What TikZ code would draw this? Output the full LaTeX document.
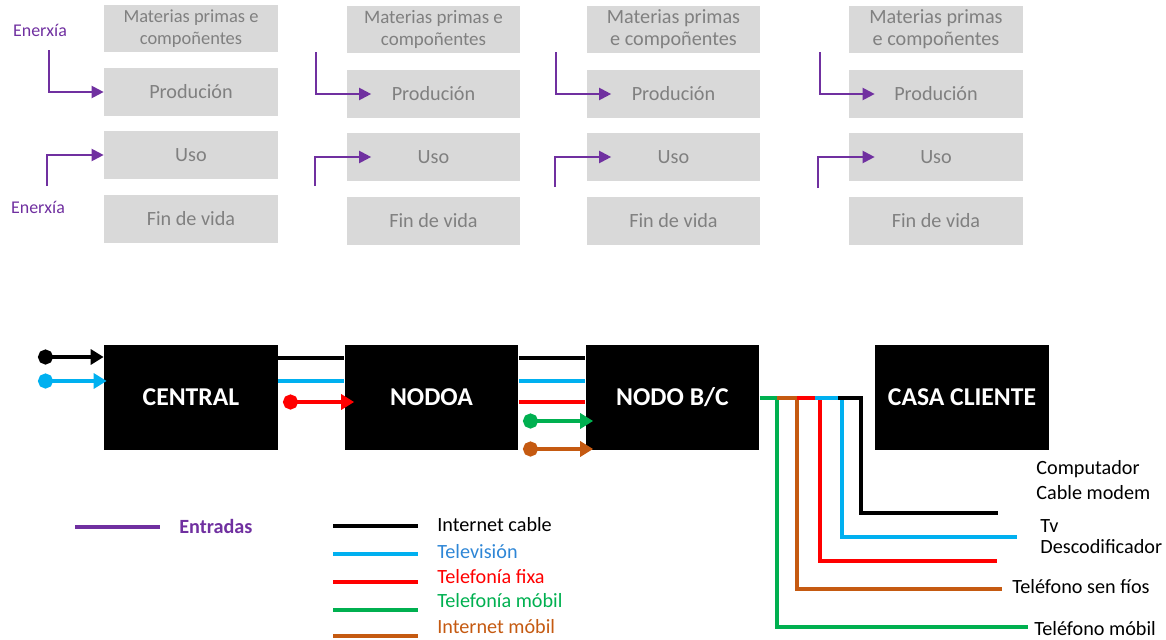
\documentclass[tikz,border=0pt]{standalone}
\usepackage{fontspec}
\setmainfont{Carlito}
\usetikzlibrary{arrows.meta}
\definecolor{inpurple}{HTML}{7030A0}
\definecolor{boxgray}{HTML}{D9D9D9}
\definecolor{txtgray}{HTML}{808080}
\definecolor{tvcyan}{HTML}{00B0F0}
\definecolor{tvblue}{HTML}{2E86D6}
\definecolor{mgreen}{HTML}{00B050}
\definecolor{morange}{HTML}{C55A11}
\begin{document}
\begin{tikzpicture}[x=0.02cm, y=-0.02cm,
  gbox/.style={fill=boxgray, text=txtgray, minimum width=3.48cm, minimum height=0.96cm, inner sep=1pt, align=center, font=\fontsize{11.5}{12.5}\selectfont},
  bbox/.style={fill=black, text=white, minimum width=3.48cm, minimum height=2.1cm, font=\fontsize{14.6}{16}\selectfont\bfseries},
  entrada/.style={draw=inpurple, line width=1.2pt, -{Triangle[length=0.24cm,width=0.24cm]}},
  wire/.style={line width=2.3pt},
  dotarrow/.style={wire, {Circle[length=0.3cm]}-{Triangle[length=0.26cm,width=0.3cm]}},
  lbl/.style={anchor=west, inner sep=0pt, font=\fontsize{11.5}{14}\selectfont}]
\useasboundingbox (0,0) rectangle (1166,639);

% ciclo de vida
\node at (191,28.5) [gbox, font=\fontsize{10.5}{12.5}\selectfont] (mat1) {Materias primas e\\compoñentes};
\node at (191,92) [gbox] (prod1) {Produción};
\node at (191,155) [gbox] (uso1) {Uso};
\node at (191,219) [gbox] (fin1) {Fin de vida};
\node at (433.5,29.5) [gbox, font=\fontsize{10.8}{12.5}\selectfont] (mat2) {Materias primas e\\compoñentes};
\node at (433.5,94) [gbox] (prod2) {Produción};
\node at (433.5,157) [gbox] (uso2) {Uso};
\node at (433.5,221) [gbox] (fin2) {Fin de vida};
\node at (673.5,29.5) [gbox] (mat3) {Materias primas\\e compoñentes};
\node at (673.5,94) [gbox] (prod3) {Produción};
\node at (673.5,157) [gbox] (uso3) {Uso};
\node at (673.5,221) [gbox] (fin3) {Fin de vida};
\node at (936,29.5) [gbox] (mat4) {Materias primas\\e compoñentes};
\node at (936,94) [gbox] (prod4) {Produción};
\node at (936,157) [gbox] (uso4) {Uso};
\node at (936,221) [gbox] (fin4) {Fin de vida};

\node at (40,30) [text=inpurple, font=\fontsize{10.2}{12}\selectfont] (en1) {Enerxía};
\node at (38,207) [text=inpurple, font=\fontsize{10.2}{12}\selectfont] (en2) {Enerxía};
\coordinate (e1) at (49,50);
\coordinate (e2) at (47,186);
\coordinate (e3) at (316,52);
\coordinate (e4) at (315,186);
\coordinate (e5) at (556,52);
\coordinate (e6) at (555,187);
\coordinate (e7) at (820,52);
\coordinate (e8) at (818,188);
\draw [entrada] (e1) |- (prod1.west);
\draw [entrada] (e2) |- (uso1.west);
\draw [entrada] (e3) |- ([xshift=0.5cm]prod2.west);
\draw [entrada] (e4) |- ([xshift=0.5cm]uso2.west);
\draw [entrada] (e5) |- ([xshift=0.5cm]prod3.west);
\draw [entrada] (e6) |- ([xshift=0.5cm]uso3.west);
\draw [entrada] (e7) |- ([xshift=0.52cm]prod4.west);
\draw [entrada] (e8) |- ([xshift=0.52cm]uso4.west);

% rede
\node at (191,397.5) [bbox] (central) {CENTRAL};
\node at (431.5,397.5) [bbox] (nodoa) {NODOA};
\node at (672.5,397.5) [bbox] (nodobc) {NODO B/C};
\node at (962,397.5) [bbox] (casa) {CASA CLIENTE};

\coordinate (inb) at (38,357);
\coordinate (inc) at (38,381);
\coordinate (inr) at (283,402);
\coordinate (ing) at (523,421);
\coordinate (ino) at (523,449);
\draw [dotarrow, black] (inb) -- (inb -| central.west);
\draw [dotarrow, tvcyan] (inc) -- ([xshift=0.06cm]inc -| central.west);
\draw [wire, black] (central.east |- 0,358) -- (nodoa.west |- 0,358);
\draw [wire, tvcyan] (central.east |- 0,381) -- (nodoa.west |- 0,381);
\draw [dotarrow, red] (inr) -- ([xshift=0.2cm]inr -| nodoa.west);
\draw [wire, black] (nodoa.east |- 0,358) -- (nodobc.west |- 0,358);
\draw [wire, tvcyan] (nodoa.east |- 0,381) -- (nodobc.west |- 0,381);
\draw [wire, red] (nodoa.east |- 0,402) -- (nodobc.west |- 0,402);
\draw [dotarrow, mgreen] (ing) -- ([xshift=0.16cm]ing -| nodobc.west);
\draw [dotarrow, morange] (ino) -- ([xshift=0.16cm]ino -| nodobc.west);

% saidas
\node at (1036,480) [lbl, align=left] (lcomp) {Computador\\Cable modem};
\node at (1040,537) [lbl, align=left, font=\fontsize{11.5}{12}\selectfont] (ltv) {Tv\\Descodificador};
\node at (1012,587) [lbl] (lfios) {Teléfono sen fíos};
\node at (1034,629) [lbl] (lmobil) {Teléfono móbil};
\coordinate (kg) at (1028,627);
\coordinate (ko) at (1002,589);
\coordinate (kr) at (997,561);
\coordinate (kc) at (1017,537);
\coordinate (kb) at (998,513);
\draw [wire, mgreen] (nodobc.east |- 0,398) -- (777,398) |- (kg);
\draw [wire, morange] (777,398) -- (797,398) |- (ko);
\draw [wire, red] (797,398) -- (820,398) |- (kr);
\draw [wire, tvcyan] (815,398) -- (842,398) |- (kc);
\draw [wire, black] (838,398) -- (861,398) |- (kb);

% lenda
\coordinate (lp) at (75,527);
\draw [line width=2.8pt, inpurple] (lp) -- ++(85,0);
\node at (179,526) [lbl, text=inpurple, font=\fontsize{11.5}{14}\selectfont\bfseries] (lent) {Entradas};
\coordinate (l1) at (333,526);
\coordinate (l2) at (333,554);
\coordinate (l3) at (333,582);
\coordinate (l4) at (333,610);
\coordinate (l5) at (333,636);
\draw [line width=2.8pt, black] (l1) -- ++(85,0);
\draw [line width=2.8pt, tvcyan] (l2) -- ++(85,0);
\draw [line width=2.8pt, red] (l3) -- ++(85,0);
\draw [line width=2.8pt, mgreen] (l4) -- ++(85,0);
\draw [line width=2.8pt, morange] (l5) -- ++(85,0);
\node at (437,525) [lbl] (tinet) {Internet cable};
\node at (437,552) [lbl, text=tvblue] (ttv) {Televisión};
\node at (437,577) [lbl, text=red] (tfixa) {Telefonía fixa};
\node at (437,601) [lbl, text=mgreen] (tmob) {Telefonía móbil};
\node at (437,627) [lbl, text=morange] (timob) {Internet móbil};
\end{tikzpicture}
\end{document}
